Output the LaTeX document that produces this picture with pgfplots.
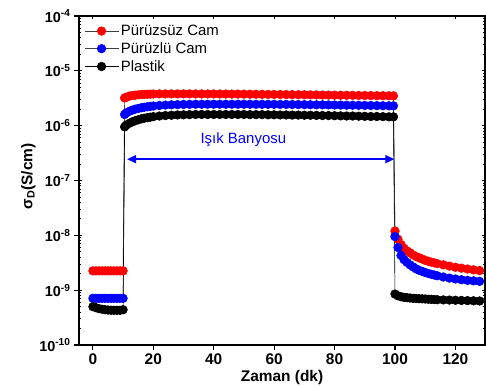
\documentclass[border=0pt]{standalone}
\usepackage{pgfplots}
\pgfplotsset{compat=1.18}
\usepackage{pgfplotstable}
\usepackage{fontspec}
\setmainfont{Liberation Sans}
\usetikzlibrary{calc,arrows.meta}

\pgfplotstableread{
x r b k
0 2.25e-9 7.1e-10 5.0e-10
1 2.25e-9 7.1e-10 4.8e-10
2 2.25e-9 7.1e-10 4.6e-10
3 2.25e-9 7.1e-10 4.5e-10
4 2.25e-9 7.1e-10 4.4e-10
5 2.25e-9 7.1e-10 4.35e-10
6 2.25e-9 7.1e-10 4.3e-10
7 2.25e-9 7.1e-10 4.3e-10
8 2.25e-9 7.1e-10 4.3e-10
9 2.25e-9 7.1e-10 4.3e-10
10 2.25e-9 7.1e-10 4.4e-10
10.5 3.2e-6 1.6e-6 0.95e-6
11 3.3e-6 1.7e-6 1.02e-6
12 3.45e-6 1.82e-6 1.1e-6
13 3.55e-6 1.92e-6 1.17e-6
14 3.6e-6 2.0e-6 1.23e-6
15 3.65e-6 2.06e-6 1.28e-6
16 3.7e-6 2.12e-6 1.33e-6
17 3.72e-6 2.17e-6 1.37e-6
18 3.74e-6 2.21e-6 1.4e-6
19 3.76e-6 2.25e-6 1.43e-6
20 3.78e-6 2.28e-6 1.46e-6
22 3.8e-6 2.33e-6 1.5e-6
24 3.8e-6 2.37e-6 1.53e-6
26 3.8e-6 2.4e-6 1.55e-6
28 3.8e-6 2.42e-6 1.57e-6
30 3.8e-6 2.44e-6 1.58e-6
32 3.8e-6 2.45e-6 1.59e-6
34 3.8e-6 2.46e-6 1.6e-6
36 3.79e-6 2.46e-6 1.6e-6
38 3.79e-6 2.46e-6 1.6e-6
40 3.79e-6 2.46e-6 1.6e-6
42 3.78e-6 2.46e-6 1.6e-6
44 3.78e-6 2.46e-6 1.6e-6
46 3.77e-6 2.46e-6 1.6e-6
48 3.77e-6 2.46e-6 1.6e-6
50 3.76e-6 2.46e-6 1.6e-6
52 3.75e-6 2.46e-6 1.59e-6
54 3.74e-6 2.45e-6 1.59e-6
56 3.73e-6 2.45e-6 1.59e-6
58 3.72e-6 2.45e-6 1.58e-6
60 3.71e-6 2.45e-6 1.58e-6
62 3.7e-6 2.44e-6 1.57e-6
64 3.69e-6 2.44e-6 1.57e-6
66 3.68e-6 2.43e-6 1.56e-6
68 3.67e-6 2.43e-6 1.56e-6
70 3.66e-6 2.42e-6 1.55e-6
72 3.65e-6 2.41e-6 1.55e-6
74 3.64e-6 2.4e-6 1.54e-6
76 3.62e-6 2.4e-6 1.53e-6
78 3.61e-6 2.39e-6 1.53e-6
80 3.6e-6 2.38e-6 1.52e-6
82 3.59e-6 2.37e-6 1.51e-6
84 3.58e-6 2.36e-6 1.5e-6
86 3.57e-6 2.36e-6 1.5e-6
88 3.56e-6 2.35e-6 1.49e-6
90 3.55e-6 2.34e-6 1.48e-6
92 3.54e-6 2.33e-6 1.47e-6
94 3.53e-6 2.32e-6 1.47e-6
96 3.52e-6 2.31e-6 1.46e-6
98 3.51e-6 2.3e-6 1.45e-6
99.5 3.5e-6 2.3e-6 1.45e-6
100 1.2e-8 9.5e-9 8.5e-10
101 8.5e-9 6.0e-9 7.9e-10
102 6.8e-9 4.3e-9 7.6e-10
103 5.8e-9 3.6e-9 7.4e-10
104 5.2e-9 3.2e-9 7.3e-10
105 4.8e-9 2.9e-9 7.2e-10
106 4.4e-9 2.65e-9 7.1e-10
107 4.1e-9 2.45e-9 7.05e-10
108 3.9e-9 2.3e-9 7.0e-10
109 3.7e-9 2.2e-9 6.95e-10
110 3.5e-9 2.1e-9 6.9e-10
111 3.37e-9 2.02e-9 6.85e-10
112 3.25e-9 1.95e-9 6.8e-10
113 3.15e-9 1.89e-9 6.75e-10
114 3.05e-9 1.83e-9 6.7e-10
116 2.9e-9 1.74e-9 6.65e-10
118 2.75e-9 1.66e-9 6.6e-10
120 2.62e-9 1.6e-9 6.55e-10
122 2.52e-9 1.55e-9 6.5e-10
124 2.43e-9 1.51e-9 6.45e-10
126 2.35e-9 1.48e-9 6.4e-10
128 2.28e-9 1.45e-9 6.35e-10
130 2.22e-9 1.42e-9 6.3e-10
132 2.18e-9 1.40e-9 6.3e-10
}\datatable

\begin{document}
\begin{tikzpicture}
\begin{axis}[
  name=main,
  scale only axis,
  width=406bp, height=329bp,
  xmin=-4.6, xmax=129.8,
  ymode=log, ymin=1e-10, ymax=1e-4,
  xtick={0,20,40,60,80,100,120},
  xticklabels={0,20,40,60,80,100,120},
  ytick={1e-10,1e-9,1e-8,1e-7,1e-6,1e-5,1e-4},
  yticklabels={10\textsuperscript{-10},10\textsuperscript{-9},10\textsuperscript{-8},10\textsuperscript{-7},10\textsuperscript{-6},10\textsuperscript{-5},10\textsuperscript{-4}},
  tick pos=left,
  tick align=outside,
  major tick length=5bp,
  minor tick length=0pt,
  axis line style={line width=1.3bp},
  every tick/.style={line width=1.1bp, black},
  xticklabel style={font=\fontsize{15.5}{18}\selectfont\bfseries},
  yticklabel style={font=\fontsize{14.5}{17}\selectfont\bfseries},
  xlabel={Zaman (dk)},
  ylabel={σ\textsubscript{D}(S/cm)},
  label style={font=\fontsize{15.5}{18}\selectfont\bfseries},
  xlabel style={yshift=1bp},
  ylabel style={yshift=-3bp, xshift=4bp},
  legend style={draw=none, fill=none, at={(0.01,0.982)}, anchor=north west,
    font=\fontsize{15}{18}\selectfont, row sep=1.5bp, inner sep=1bp},
  legend cell align=left,
  legend image code/.code={\draw[mark repeat=2,mark phase=2] plot coordinates {(0bp,0bp) (17bp,0bp) (34bp,0bp)};},
]
\addplot[black!75, line width=0.6bp, mark=*, mark size=4.3bp, mark options={draw=red, fill=red}] table[x=x, y=r] {\datatable};
\addlegendentry{Pürüzsüz Cam}
\addplot[black!75, line width=0.6bp, mark=*, mark size=4.3bp, mark options={draw=blue, fill=blue}] table[x=x, y=b] {\datatable};
\addlegendentry{Pürüzlü Cam}
\addplot[black, line width=0.6bp, mark=*, mark size=4.3bp, mark options={draw=black, fill=black}] table[x=x, y=k] {\datatable};
\addlegendentry{Plastik}
\draw[blue, line width=1.5bp, {Triangle[length=9bp,width=8bp]}-{Triangle[length=9bp,width=8bp]}] (axis cs:11.3,2.45e-7) -- (axis cs:99.8,2.45e-7);
\node[blue, font=\fontsize{15}{18}\selectfont] at (axis cs:49.8,5.6e-7) {Işık Banyosu};
\end{axis}
\begin{axis}[
  scale only axis,
  width=406bp, height=329bp,
  xmin=-4.6, xmax=129.8,
  ymode=log, ymin=1e-10, ymax=1e-4,
  xtick={0,20,40,60,80,100,120},
  ytick={1e-10,1e-9,1e-8,1e-7,1e-6,1e-5,1e-4},
  xticklabels={}, yticklabels={},
  xtick pos=right, ytick pos=both,
  tick align=inside,
  major tick length=3bp,
  minor tick length=2.5bp,
  axis line style={line width=1.3bp},
  every tick/.style={line width=0.9bp, black},
]
\end{axis}
\pgfresetboundingbox
\path[use as bounding box] ($(main.south west)+(-79bp,-42bp)$) rectangle ($(main.north east)+(1bp,16bp)$);
\end{tikzpicture}
\end{document}
